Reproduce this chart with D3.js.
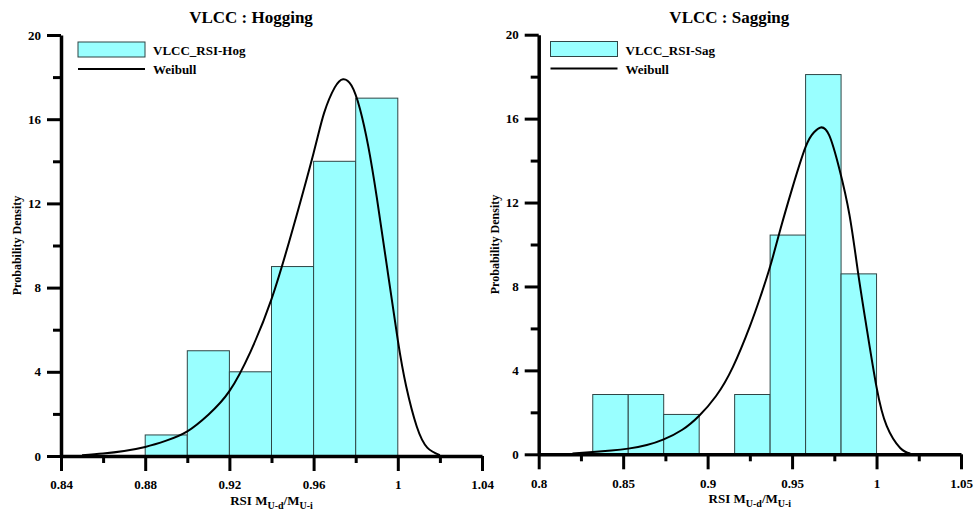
<!DOCTYPE html>
<html>
<head>
<meta charset="utf-8">
<script src="https://cdn.jsdelivr.net/npm/d3@7"></script>
<style>
  html, body { margin: 0; padding: 0; background: #fff; }
  svg { display: block; }
  text { font-family: "Liberation Serif", "Times New Roman", serif; font-weight: bold; fill: #000; }
</style>
</head>
<body>
<div id="chart"></div>
<script>
// ---------------- DATA ----------------
const hogTitle = "VLCC : Hogging";
const hogLegend = "VLCC_RSI-Hog";
const hogBinEdges = [0.88, 0.90, 0.92, 0.94, 0.96, 0.98, 1.00];
const hogDensity = [1, 5, 4, 9, 14, 17];
const hogCurveX = [0.850, 0.860, 0.870, 0.880, 0.890, 0.900, 0.910, 0.920, 0.930, 0.940, 0.950, 0.960, 0.965, 0.970, 0.974, 0.978, 0.982, 0.986, 0.990, 0.995, 1.000, 1.004, 1.009, 1.014, 1.020];
const hogCurveY = [0.04, 0.12, 0.24, 0.43, 0.73, 1.17, 1.96, 3.08, 4.95, 7.45, 10.75, 14.4, 16.3, 17.5, 17.9, 17.6, 16.5, 14.7, 12.3, 8.9, 5.5, 3.3, 1.4, 0.4, 0.04];
const hogXTicks = [0.84, 0.88, 0.92, 0.96, 1.00, 1.04];
const hogXTickLabels = ["0.84", "0.88", "0.92", "0.96", "1", "1.04"];
const hogXMinor = [0.86, 0.90, 0.94, 0.98, 1.02];

const sagTitle = "VLCC : Sagging";
const sagLegend = "VLCC_RSI-Sag";
const sagBinEdges = [0.832, 0.853, 0.874, 0.895, 0.916, 0.937, 0.958, 0.979, 1.000];
const sagDensity = [2.85, 2.85, 1.9, 0, 2.85, 10.45, 18.1, 8.6];
const sagCurveX = [0.820, 0.832, 0.843, 0.853, 0.864, 0.874, 0.885, 0.895, 0.905, 0.915, 0.925, 0.931, 0.937, 0.943, 0.950, 0.958, 0.963, 0.967, 0.972, 0.978, 0.984, 0.989, 0.994, 1.000, 1.006, 1.014, 1.020];
const sagCurveY = [0.04, 0.11, 0.18, 0.27, 0.44, 0.71, 1.17, 1.84, 2.78, 4.17, 6.1, 7.45, 8.95, 10.7, 12.65, 14.65, 15.35, 15.58, 15.2, 13.6, 11.4, 8.7, 6.1, 3.2, 1.35, 0.3, 0.04];
const sagXTicks = [0.80, 0.85, 0.90, 0.95, 1.00, 1.05];
const sagXTickLabels = ["0.8", "0.85", "0.9", "0.95", "1", "1.05"];
const sagXMinor = [0.825, 0.875, 0.925, 0.975, 1.025];

const yTicks = [0, 4, 8, 12, 16, 20];
const yTickLabels = ["0", "4", "8", "12", "16", "20"];
const yMinor = [2, 6, 10, 14, 18];
const yTitle = "Probability Density";
const curveLegend = "Weibull";

// ---------------- DRAW ----------------
const W = 976, H = 515;
const svg = d3.select("#chart").append("svg").attr("width", W).attr("height", H);

const panels = [
  { title: hogTitle, legend: hogLegend, edges: hogBinEdges, dens: hogDensity, cx: hogCurveX, cy: hogCurveY,
    xt: hogXTicks, xtl: hogXTickLabels, xm: hogXMinor,
    xDomain: [0.84, 1.04], xRange: [61, 482], yRange: [456, 35],
    legX: 78, legY: 42, yTitleX: 17 },
  { title: sagTitle, legend: sagLegend, edges: sagBinEdges, dens: sagDensity, cx: sagCurveX, cy: sagCurveY,
    xt: sagXTicks, xtl: sagXTickLabels, xm: sagXMinor,
    xDomain: [0.80, 1.05], xRange: [538.7, 961], yRange: [454.3, 34.7],
    legX: 550.5, legY: 41.5, yTitleX: 495 }
];

panels.forEach((p, pi) => {
  const x = d3.scaleLinear().domain(p.xDomain).range(p.xRange);
  const y = d3.scaleLinear().domain([0, 20]).range(p.yRange);
  const g = svg.append("g");

  // bars
  const bins = p.dens.map((d, i) => ({ x0: p.edges[i], x1: p.edges[i + 1], v: d })).filter(b => b.v > 0);
  g.selectAll("rect.bar").data(bins).enter().append("rect")
    .attr("class", "bar")
    .attr("x", b => x(b.x0))
    .attr("y", b => y(b.v))
    .attr("width", b => x(b.x1) - x(b.x0))
    .attr("height", b => y(0) - y(b.v))
    .attr("fill", "#99ffff")
    .attr("stroke", "#2f4545")
    .attr("stroke-width", 1);

  // curve
  const pts = p.cx.map((v, i) => [v, p.cy[i]]);
  const line = d3.line().x(d => x(d[0])).y(d => y(d[1])).curve(d3.curveNatural);
  g.append("path").datum(pts).attr("d", line)
    .attr("fill", "none").attr("stroke", "#000").attr("stroke-width", 2);

  // x axis minor
  const xAxisMinor = d3.axisBottom(x).tickValues(p.xm).tickSize(7).tickSizeOuter(0).tickFormat("");
  const gxm = g.append("g").attr("transform", `translate(0,${y(0)})`).call(xAxisMinor);
  gxm.select(".domain").remove();
  gxm.selectAll(".tick line").attr("stroke", "#000").attr("stroke-width", 3);

  // x axis major
  const xAxis = d3.axisBottom(x).tickValues(p.xt).tickSize(15).tickSizeOuter(0)
    .tickFormat((d, i) => p.xtl[i]);
  const gx = g.append("g").attr("transform", `translate(0,${y(0)})`).call(xAxis);
  gx.select(".domain").attr("stroke", "#000").attr("stroke-width", 3.5);
  gx.selectAll(".tick line").attr("stroke", "#000").attr("stroke-width", 3);
  gx.selectAll(".tick text").attr("font-size", 13).attr("font-family", "Liberation Serif").attr("font-weight", "bold")
    .attr("y", 24).attr("dy", "0.71em").attr("fill", "#000");

  // y axis minor
  const yAxisMinor = d3.axisLeft(y).tickValues(yMinor).tickSize(8).tickSizeOuter(0).tickFormat("");
  const gym = g.append("g").attr("transform", `translate(${x(p.xDomain[0])},0)`).call(yAxisMinor);
  gym.select(".domain").remove();
  gym.selectAll(".tick line").attr("stroke", "#000").attr("stroke-width", 3);

  // y axis major
  const yAxis = d3.axisLeft(y).tickValues(yTicks).tickSize(14).tickSizeOuter(0)
    .tickFormat((d, i) => yTickLabels[i]);
  const gy = g.append("g").attr("transform", `translate(${x(p.xDomain[0])},0)`).call(yAxis);
  gy.select(".domain").attr("stroke", "#000").attr("stroke-width", 3.5);
  gy.selectAll(".tick line").attr("stroke", "#000").attr("stroke-width", 3);
  gy.selectAll(".tick text").attr("font-size", 13).attr("font-family", "Liberation Serif").attr("font-weight", "bold")
    .attr("x", -20).attr("fill", "#000");

  // title
  const cxPlot = (p.xRange[0] + p.xRange[1]) / 2;
  g.append("text").attr("x", cxPlot - 20.5).attr("y", 23).attr("text-anchor", "middle")
    .attr("font-size", 17).text(p.title);

  // y title
  const cyPlot = (p.yRange[0] + p.yRange[1]) / 2;
  g.append("text").attr("transform", `translate(${p.yTitleX + 4},${cyPlot}) rotate(-90)`)
    .attr("text-anchor", "middle").attr("font-size", 12).text(yTitle);

  // x title with subscripts
  const xt = g.append("text").attr("x", cxPlot).attr("y", y(0) + 49).attr("text-anchor", "middle").attr("font-size", 13);
  xt.append("tspan").text("RSI M");
  xt.append("tspan").attr("font-size", 10).attr("dy", 4).text("U-d");
  xt.append("tspan").attr("dy", -4).text("/M");
  xt.append("tspan").attr("font-size", 10).attr("dy", 4).text("U-i");

  // legend
  g.append("rect").attr("x", p.legX).attr("y", p.legY).attr("width", 67).attr("height", 15)
    .attr("fill", "#99ffff").attr("stroke", "#2f4545").attr("stroke-width", 1);
  g.append("text").attr("x", p.legX + 75).attr("y", p.legY + 13).attr("font-size", 13).text(p.legend);
  g.append("line").attr("x1", p.legX).attr("x2", p.legX + 67).attr("y1", p.legY + 27).attr("y2", p.legY + 27)
    .attr("stroke", "#000").attr("stroke-width", 2);
  g.append("text").attr("x", p.legX + 75).attr("y", p.legY + 32).attr("font-size", 13).text(curveLegend);
});
</script>
</body>
</html>
